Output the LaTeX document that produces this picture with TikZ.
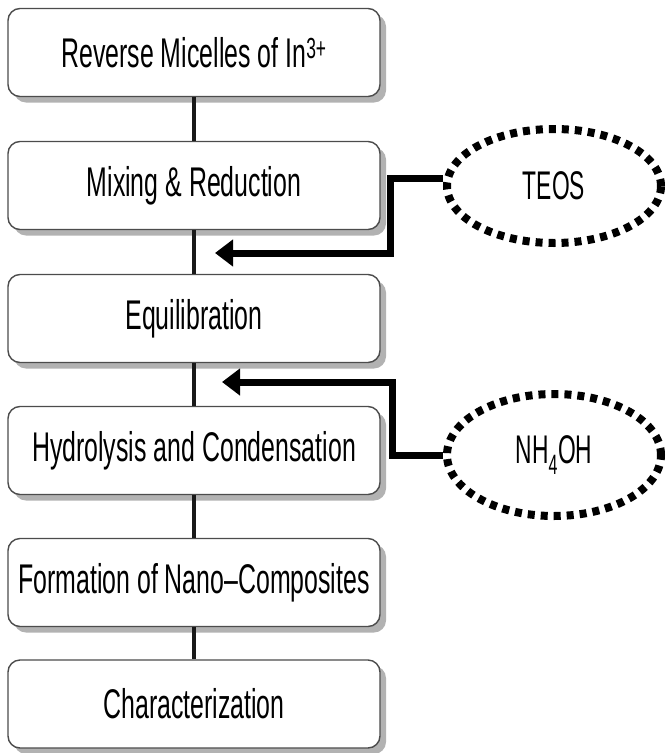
\documentclass[tikz,border=0pt]{standalone}
\usepackage{fontspec}
\newfontfamily\boxfont[FakeStretch=0.6]{Liberation Sans}
\newfontfamily\ellfont[FakeStretch=0.57]{Liberation Sans}
\usetikzlibrary{shadows,arrows.meta,calc,shapes.geometric}
\tikzset{
  stepbox/.style={draw=black!70, line width=1.4pt, rounded corners=12pt, fill=white,
    minimum width=372pt, minimum height=88pt, inner sep=0pt,
    font=\boxfont\fontsize{41.5}{44}\selectfont,
    drop shadow={shadow xshift=6pt, shadow yshift=-6pt, fill=black!30, opacity=1}},
  reagent/.style={ellipse, draw=black, line width=8pt, dash pattern=on 7pt off 6pt,
    minimum width=214pt, inner sep=0pt, font=\ellfont\fontsize{40}{44}\selectfont},
  vline/.style={draw=black!90, line width=4.5pt},
  feed/.style={draw=black, line width=7pt, -{Triangle[length=18pt,width=26pt]}}
}
\begin{document}
\begin{tikzpicture}[x=1pt,y=-1pt]
\useasboundingbox (0,0) rectangle (666,753);
\node[stepbox] (b1) at (194,52.5) {Reverse Micelles of In\textsuperscript{3+}};
\node[stepbox] (b2) at (194,185.5) {Mixing \& Reduction};
\node[stepbox] (b3) at (194,318.5) {Equilibration};
\node[stepbox] (b4) at (194,450.5) {Hydrolysis and Condensation};
\node[stepbox] (b5) at (194,582.5) {Formation of Nano–Composites};
\node[stepbox] (b6) at (194,704) {Characterization};
\draw[vline] (b1.south) -- (b2.north);
\draw[vline] (b2.south) -- (b3.north);
\draw[vline] (b3.south) -- (b4.north);
\draw[vline] (b4.south) -- (b5.north);
\draw[vline] (b5.south) -- (b6.north);
\node[reagent, minimum height=114pt] (teos) at (554,186) {TEOS};
\node[reagent, minimum height=122pt] (nh) at (554,455) {NH\textsubscript{4}OH};
\coordinate (t1) at (215,253);
\coordinate (k1) at (390,253);
\coordinate (t2) at (222,382);
\coordinate (k2) at (392,382);
\draw[feed] ($(teos.west)+(0,-8)$) -| (k1) -- (t1);
\draw[feed] (nh.west) -| (k2) -- (t2);
\end{tikzpicture}
\end{document}
